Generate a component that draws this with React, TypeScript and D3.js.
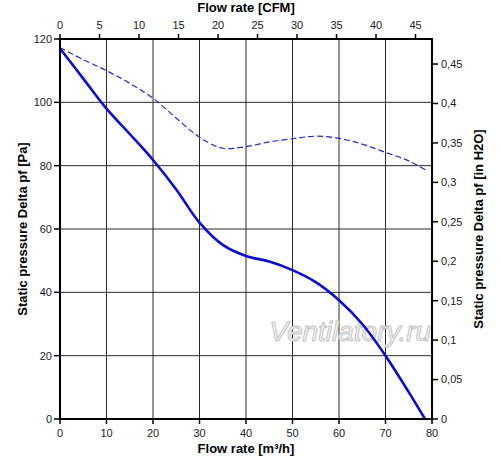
import * as d3 from 'd3';

// flow rate in m³/h, static pressure in Pa
const solidFlow = [0, 5, 10, 15, 20, 25, 30, 35, 40, 45, 50, 55, 60, 65, 70, 75, 78.5];
const solidPressure = [117, 107.5, 98, 90, 81.8, 72.5, 62, 55, 51.5, 49.7, 47, 43.2, 37.5, 30, 20, 8.5, 0];

const dashFlow = [0, 5, 10, 15, 20, 25, 30, 35, 40, 45, 50, 55, 60, 65, 70, 75, 78.7];
const dashPressure = [117.3, 113.5, 110, 106, 101.3, 95, 89, 85.5, 86, 87.5, 88.5, 89.3, 88.6, 86.8, 84.2, 81.5, 78.6];

const bottomTicks = [0, 10, 20, 30, 40, 50, 60, 70, 80];
const leftTicks = [0, 20, 40, 60, 80, 100, 120];
const topTicks = [0, 5, 10, 15, 20, 25, 30, 35, 40, 45];
const rightTicks = [0, 0.05, 0.1, 0.15, 0.2, 0.25, 0.3, 0.35, 0.4, 0.45];

const M3H_PER_CFM = 1.699;
const INH2O_PER_PA = 0.0040146;

const font = 'Liberation Sans, Arial, sans-serif';

export default function App() {
    const width = 500;
    const height = 460;
    const margin = { top: 39, right: 68, bottom: 41, left: 60 };
    const innerWidth = width - margin.left - margin.right;
    const innerHeight = height - margin.top - margin.bottom;

    const xScale = d3.scaleLinear().domain([0, 80]).range([0, innerWidth]);
    const yScale = d3.scaleLinear().domain([0, 120]).range([innerHeight, 0]);
    const xTop = d3.scaleLinear().domain([0, 80 / M3H_PER_CFM]).range([0, innerWidth]);
    const yRight = d3.scaleLinear().domain([0, 120 * INH2O_PER_PA]).range([innerHeight, 0]);

    const line = d3
        .line<[number, number]>()
        .x((d) => xScale(d[0]))
        .y((d) => yScale(d[1]))
        .curve(d3.curveCatmullRom.alpha(0.5));

    const solid = solidFlow.map((f, i) => [f, solidPressure[i]] as [number, number]);
    const dashed = dashFlow.map((f, i) => [f, dashPressure[i]] as [number, number]);

    const fmt = (v: number) => String(+v.toFixed(2)).replace('.', ',');

    return (
        <svg
            width={width}
            height={height}
            style={{ position: 'absolute', left: 0, top: 0, background: '#fff' }}
            fontFamily={font}
        >
            <rect width={width} height={height} fill="#fff" />
            <g transform={`translate(${margin.left}, ${margin.top})`}>
                {/* grid */}
                {bottomTicks.slice(1, -1).map((t) => (
                    <line key={'gx' + t} x1={xScale(t)} x2={xScale(t)} y1={0} y2={innerHeight} stroke="#2a2a2a" strokeWidth={1} />
                ))}
                {leftTicks.slice(1, -1).map((t) => (
                    <line key={'gy' + t} x1={0} x2={innerWidth} y1={yScale(t)} y2={yScale(t)} stroke="#2a2a2a" strokeWidth={1} />
                ))}

                {/* watermark */}
                <text
                    x={xScale(45)}
                    y={yScale(24.5)}
                    fontSize={28}
                    fontStyle="italic"
                    fill="#f7f7f7"
                    stroke="#c4c4c4"
                    strokeWidth={1}
                    fontFamily={font}
                >
                    Ventilatory.ru
                </text>

                {/* curves */}
                <path d={line(dashed) ?? ''} fill="none" stroke="#2626d0" strokeWidth={1.2} strokeDasharray="6,3" />
                <path d={line(solid) ?? ''} fill="none" stroke="#0a0ad0" strokeWidth={2.6} />

                {/* frame */}
                <rect x={0} y={0} width={innerWidth} height={innerHeight} fill="none" stroke="#000" strokeWidth={2} />

                {/* bottom axis */}
                {bottomTicks.map((t) => (
                    <g key={'b' + t} transform={`translate(${xScale(t)},${innerHeight})`}>
                        <line y1={0} y2={5} stroke="#000" strokeWidth={1.5} />
                        <text y={18} textAnchor="middle" fontSize={11} fill="#222">{t}</text>
                    </g>
                ))}
                {/* left axis */}
                {leftTicks.map((t) => (
                    <g key={'l' + t} transform={`translate(0,${yScale(t)})`}>
                        <line x1={-6} x2={0} stroke="#000" strokeWidth={1.5} />
                        <text x={-8} dy="0.35em" textAnchor="end" fontSize={11} fill="#222">{t}</text>
                    </g>
                ))}
                {/* top axis */}
                {topTicks.map((t) => (
                    <g key={'t' + t} transform={`translate(${xTop(t)},0)`}>
                        <line y1={0} y2={-5} stroke="#000" strokeWidth={1.5} />
                        <text y={-10} textAnchor="middle" fontSize={11} fill="#222">{t}</text>
                    </g>
                ))}
                {/* right axis */}
                {rightTicks.map((t) => (
                    <g key={'r' + t} transform={`translate(${innerWidth},${yRight(t)})`}>
                        <line x1={0} x2={6} stroke="#000" strokeWidth={1.5} />
                        <text x={9} dy="0.35em" textAnchor="start" fontSize={11} fill="#222">{fmt(t)}</text>
                    </g>
                ))}

                {/* axis titles */}
                <text x={innerWidth / 2} y={innerHeight + 34} textAnchor="middle" fontSize={13} fontWeight="bold">
                    Flow rate [m³/h]
                </text>
                <text x={innerWidth / 2} y={-27} textAnchor="middle" fontSize={13} fontWeight="bold">
                    Flow rate [CFM]
                </text>
                <text
                    transform={`translate(-33,${innerHeight / 2}) rotate(-90)`}
                    textAnchor="middle"
                    fontSize={13}
                    fontWeight="bold"
                >
                    Static pressure Delta pf [Pa]
                </text>
                <text
                    transform={`translate(${innerWidth + 51},${innerHeight / 2}) rotate(-90)`}
                    textAnchor="middle"
                    fontSize={13}
                    fontWeight="bold"
                >
                    Static pressure Delta pf [in H2O]
                </text>
            </g>
        </svg>
    );
}
